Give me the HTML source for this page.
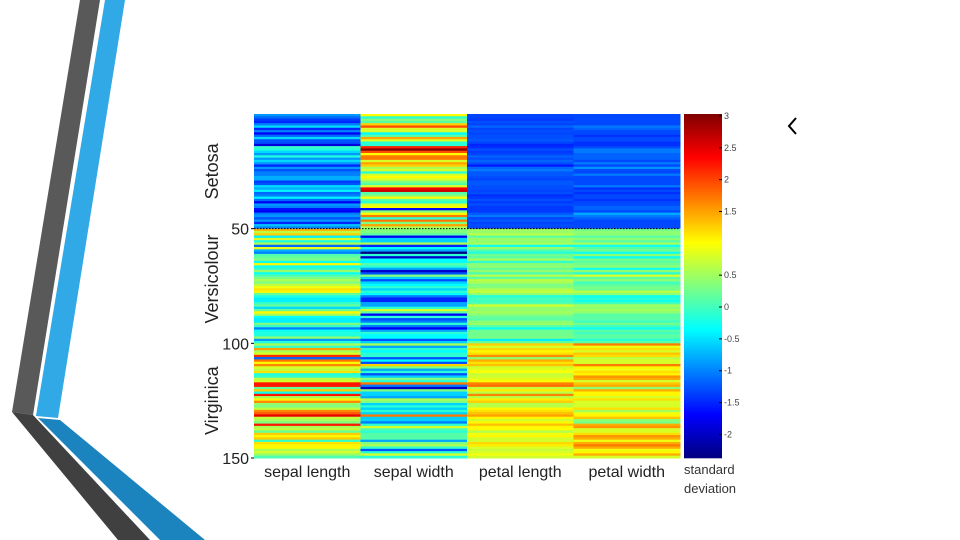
<!DOCTYPE html>
<html><head><meta charset="utf-8"><style>
html,body{margin:0;padding:0;background:#fff;width:960px;height:540px;overflow:hidden}
svg{display:block;font-family:"Liberation Sans",sans-serif}
</style></head><body>
<svg id="root" width="960" height="540">
<g>
<polygon points="80,0 100,0 33,415 12,412" fill="#595959"/>
<polygon points="105,0 125,0 58,418 36,416" fill="#30a9e6"/>
<polygon points="12,412 33,415 150,540 118,540" fill="#404040"/>
<polygon points="38,418 60,420 205,540 160,540" fill="#1b84bf"/>
</g>
<polyline points="796,118 789,126 796,134" fill="none" stroke="#000" stroke-width="2"/>
<g id="heat"></g>
<g id="cbar"></g>
<g id="labels"></g>
</svg>
<script>
const sepalLength=[5.1,4.9,4.7,4.6,5.0,5.4,4.6,5.0,4.4,4.9,5.4,4.8,4.8,4.3,5.8,5.7,5.4,5.1,5.7,5.1,5.4,5.1,4.6,5.1,4.8,5.0,5.0,5.2,5.2,4.7,4.8,5.4,5.2,5.5,4.9,5.0,5.5,4.9,4.4,5.1,5.0,4.5,4.4,5.0,5.1,4.8,5.1,4.6,5.3,5.0,
7.0,6.4,6.9,5.5,6.5,5.7,6.3,4.9,6.6,5.2,5.0,5.9,6.0,6.1,5.6,6.7,5.6,5.8,6.2,5.6,5.9,6.1,6.3,6.1,6.4,6.6,6.8,6.7,6.0,5.7,5.5,5.5,5.8,6.0,5.4,6.0,6.7,6.3,5.6,5.5,5.5,6.1,5.8,5.0,5.6,5.7,5.7,6.2,5.1,5.7,
6.3,5.8,7.1,6.3,6.5,7.6,4.9,7.3,6.7,7.2,6.5,6.4,6.8,5.7,5.8,6.4,6.5,7.7,7.7,6.0,6.9,5.6,7.7,6.3,6.7,7.2,6.2,6.1,6.4,7.2,7.4,7.9,6.4,6.3,6.1,7.7,6.3,6.4,6.0,6.9,6.7,6.9,5.8,6.8,6.7,6.7,6.3,6.5,6.2,5.9];
const sepalWidth=[3.5,3.0,3.2,3.1,3.6,3.9,3.4,3.4,2.9,3.1,3.7,3.4,3.0,3.0,4.0,4.4,3.9,3.5,3.8,3.8,3.4,3.7,3.6,3.3,3.4,3.0,3.4,3.5,3.4,3.2,3.1,3.4,4.1,4.2,3.1,3.2,3.5,3.1,3.0,3.4,3.5,2.3,3.2,3.5,3.8,3.0,3.8,3.2,3.7,3.3,
3.2,3.2,3.1,2.3,2.8,2.8,3.3,2.4,2.9,2.7,2.0,3.0,2.2,2.9,2.9,3.1,3.0,2.7,2.2,2.5,3.2,2.8,2.5,2.8,2.9,3.0,2.8,3.0,2.9,2.6,2.4,2.4,2.7,2.7,3.0,3.4,3.1,2.3,3.0,2.5,2.6,3.0,2.6,2.3,2.7,3.0,2.9,2.9,2.5,2.8,
3.3,2.7,3.0,2.9,3.0,3.0,2.5,2.9,2.5,3.6,3.2,2.7,3.0,2.5,2.8,3.2,3.0,3.8,2.6,2.2,3.2,2.8,2.8,2.7,3.3,3.2,2.8,3.0,2.8,3.0,2.8,3.8,2.8,2.8,2.6,3.0,3.4,3.1,3.0,3.1,3.1,3.1,2.7,3.2,3.3,3.0,2.5,3.0,3.4,3.0];
const petalLength=[1.4,1.4,1.3,1.5,1.4,1.7,1.4,1.5,1.4,1.5,1.5,1.6,1.4,1.1,1.2,1.5,1.3,1.4,1.7,1.5,1.7,1.5,1.0,1.7,1.9,1.6,1.6,1.5,1.4,1.6,1.6,1.5,1.5,1.4,1.5,1.2,1.3,1.5,1.3,1.5,1.3,1.3,1.3,1.6,1.9,1.4,1.6,1.4,1.5,1.4,
4.7,4.5,4.9,4.0,4.6,4.5,4.7,3.3,4.6,3.9,3.5,4.2,4.0,4.7,3.6,4.4,4.5,4.1,4.5,3.9,4.8,4.0,4.9,4.7,4.3,4.4,4.8,5.0,4.5,3.5,3.8,3.7,3.9,5.1,4.5,4.5,4.7,4.4,4.1,4.0,4.4,4.6,4.0,3.3,4.2,4.2,4.2,4.3,3.0,4.1,
6.0,5.1,5.9,5.6,5.8,6.6,4.5,6.3,5.8,6.1,5.1,5.3,5.5,5.0,5.1,5.3,5.5,6.7,6.9,5.0,5.7,4.9,6.7,4.9,5.7,6.0,4.8,4.9,5.6,5.8,6.1,6.4,5.6,5.1,5.6,6.1,5.6,5.5,4.8,5.4,5.6,5.1,5.1,5.9,5.7,5.2,5.0,5.2,5.4,5.1];
const petalWidth=[0.2,0.2,0.2,0.2,0.2,0.4,0.3,0.2,0.2,0.1,0.2,0.2,0.1,0.1,0.2,0.4,0.4,0.3,0.3,0.3,0.2,0.4,0.2,0.5,0.2,0.2,0.4,0.2,0.2,0.2,0.2,0.4,0.1,0.2,0.1,0.2,0.2,0.1,0.2,0.2,0.3,0.3,0.2,0.6,0.4,0.3,0.2,0.2,0.2,0.2,
1.4,1.5,1.5,1.3,1.5,1.3,1.6,1.0,1.3,1.4,1.0,1.5,1.0,1.4,1.3,1.4,1.5,1.0,1.5,1.1,1.8,1.3,1.5,1.2,1.3,1.4,1.4,1.7,1.5,1.0,1.1,1.0,1.2,1.6,1.5,1.6,1.5,1.3,1.3,1.3,1.2,1.4,1.2,1.0,1.3,1.2,1.3,1.3,1.1,1.3,
2.5,1.9,2.1,1.8,2.2,2.1,1.7,1.8,1.8,2.5,2.0,1.9,2.1,2.0,2.4,2.3,1.8,2.2,2.3,1.5,2.3,2.0,2.0,1.8,2.1,1.8,1.8,1.8,2.1,1.6,1.9,2.0,2.2,1.5,1.4,2.3,2.4,1.8,1.8,2.1,2.4,2.3,1.9,2.3,2.5,2.3,1.9,2.0,2.3,1.8];
const categories=["sepal length","sepal width","petal length","petal width"];
const rowTicks=[50,100,150];
const groupNames=["Setosa","Versicolour","Virginica"];
const colorTicks=[3,2.5,2,1.5,0.5,0,-0.5,-1,-1.5,-2];

const NS="http://www.w3.org/2000/svg";
function mk(tag,attrs,parent){const e=document.createElementNS(NS,tag);for(const k in attrs)e.setAttribute(k,attrs[k]);parent.appendChild(e);return e;}
const X0=254,X1=680,Y0=114,Y1=458,VMIN=-2.37,VMAX=3.03,CB_X=684,CB_W=38;
const nRows=sepalLength.length;
const xCol=i=>X0+i*(X1-X0)/categories.length;
const yRow=r=>Y0+r*(Y1-Y0)/nRows;
const yVal=v=>Y0+(VMAX-v)/(VMAX-VMIN)*(Y1-Y0);
function jet(t){t=Math.max(0,Math.min(1,t));
 const f=x=>Math.round(255*Math.max(0,Math.min(1,1.5-Math.abs(4*t-x))));
 return `rgb(${f(3)},${f(2)},${f(1)})`;}
const colorOf=v=>jet((v-VMIN)/(VMAX-VMIN));
function standardize(a){const m=a.reduce((s,v)=>s+v,0)/a.length;const sd=Math.sqrt(a.reduce((s,v)=>s+(v-m)*(v-m),0)/(a.length-1));return a.map(v=>(v-m)/sd);}
const cols=[sepalLength,sepalWidth,petalLength,petalWidth].map(standardize);
const heat=document.getElementById('heat');
cols.forEach((col,c)=>{col.forEach((v,r)=>{
 const rc=mk('rect',{x:xCol(c),y:yRow(r),width:xCol(c+1)-xCol(c)+0.5,height:yRow(r+1)-yRow(r)+0.5,fill:colorOf(v)},heat);
 
 
});});
const sep=mk('line',{x1:X0,x2:X1,y1:yRow(50),y2:yRow(50),stroke:'#000','stroke-dasharray':'1.5,1.5','stroke-width':1},heat);


const lab=document.getElementById('labels');
categories.forEach((c,i)=>{const t=mk('text',{x:(xCol(i)+xCol(i+1))/2,y:477,'font-size':16,'text-anchor':'middle',fill:'#222'},lab);t.textContent=c;
 
 });
rowTicks.forEach(r=>{const y=yRow(r);const t=mk('text',{x:249,y:y+6,'font-size':16,'text-anchor':'end',fill:'#222'},lab);t.textContent=r;
 
 
 mk('line',{x1:X0-3,x2:X0,y1:y,y2:y,stroke:'#000'},lab);});
const groupOffsets=[0,-7,0];
[[0,50],[50,100],[100,150]].forEach((g,i)=>{const cy=(yRow(g[0])+yRow(g[1]))/2+groupOffsets[i];
 const t=mk('text',{x:0,y:0,'font-size':18,'text-anchor':'middle',fill:'#222',transform:`translate(218,${cy}) rotate(-90)`},lab);t.textContent=groupNames[i];
 
 });
const cb=document.getElementById('cbar');
for(let y=Y0;y<Y1;y++){const v=VMAX-(y+0.5-Y0)/(Y1-Y0)*(VMAX-VMIN);mk('rect',{x:CB_X,y:y,width:CB_W,height:1.3,fill:colorOf(v)},cb);}
colorTicks.forEach(v=>{const y=yVal(v);mk('line',{x1:CB_X+CB_W-3,x2:CB_X+CB_W,y1:y,y2:y,stroke:'#000'},cb);
 const t=mk('text',{x:CB_X+CB_W+2,y:y+3,'font-size':9,fill:'#444'},cb);t.textContent=v;
 
 });
const ct1=mk('text',{x:684,y:474,'font-size':13,fill:'#333'},cb);ct1.textContent='standard';


const ct2=mk('text',{x:684,y:493,'font-size':13,fill:'#333'},cb);ct2.textContent='deviation';


</script>
</body></html>
